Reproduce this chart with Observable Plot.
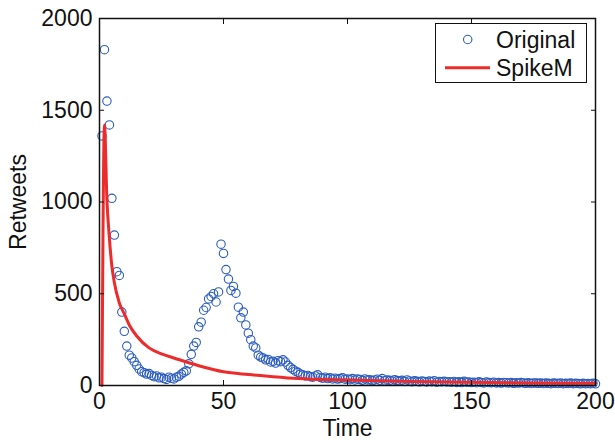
<!DOCTYPE html>
<html>
<head>
<meta charset="utf-8">
<script src="https://cdn.jsdelivr.net/npm/d3@7"></script>
<script src="https://cdn.jsdelivr.net/npm/@observablehq/plot@0.6"></script>
<style>
  html, body { margin: 0; padding: 0; background: #fff; }
  #wrap { position: relative; width: 615px; height: 440px; font-family: "Liberation Sans", Arial, sans-serif; }
  #legend { position: absolute; left: 435px; top: 23px; }
</style>
</head>
<body>
<div id="wrap"></div>
<script>
// Original observations: retweets per time step (t = 1..200)
const originalValues = [
  1360,1830,1550,1420,1020,820,620,600,400,295,
  215,165,150,130,110,90,75,70,62,65,
  55,48,52,42,45,38,33,45,40,36,
  45,50,62,72,80,118,170,215,235,320,
  345,410,425,472,485,500,455,510,770,720,
  632,580,518,540,503,427,369,400,330,285,
  250,215,205,165,155,150,140,142,128,132,
  122,135,130,140,128,110,98,88,78,72,
  62,58,52,55,48,45,52,58,44,40,
  45,38,42,36,40,35,38,42,34,36,
  32,38,30,35,33,28,36,30,32,27,
  30,34,28,38,26,30,28,25,32,27,
  24,28,22,30,25,21,26,23,20,25,
  22,19,24,21,26,18,22,20,23,19,
  21,18,22,17,20,16,23,18,19,16,
  18,15,20,17,14,19,16,15,18,14,
  16,13,17,15,14,16,12,15,13,16,
  14,12,15,11,14,13,12,14,11,13,
  12,10,13,12,11,14,10,12,11,13,
  10,12,11,9,12,10,11,10,12,9
];
const originalTimes = originalValues.map((_, i) => i + 1);

// SpikeM model curve, read at sampled times
const spikeTimes  = [1, 2, 3, 4, 5, 6, 8, 10, 12, 15, 20, 25, 30, 40, 50, 60, 70, 80, 100, 125, 150, 175, 200];
const spikeValues = [0, 1420, 1010, 800, 650, 560, 450, 390, 330, 270, 205, 172, 150, 108, 75, 60, 48, 38, 30, 22, 18, 14, 12];

const xTicks = [0, 50, 100, 150, 200];
const yTicks = [0, 500, 1000, 1500, 2000];
const legendLabels = ["Original", "SpikeM"];

const blue = "#2b5cbf";
const red = "#ee2b2b";

const original = originalTimes.map((t, i) => ({t, v: originalValues[i]}));
const spike = spikeTimes.map((t, i) => ({t, v: spikeValues[i]}));
const fmt = d => String(d);

const chart = Plot.plot({
  width: 615,
  height: 440,
  marginLeft: 99,
  marginRight: 20,
  marginTop: 18,
  marginBottom: 55,
  style: {fontFamily: '"Liberation Sans", Arial, sans-serif', fontSize: "23px", color: "#111", background: "#fff", overflow: "visible"},
  x: {domain: [0, 200]},
  y: {domain: [0, 2000]},
  marks: [
    Plot.dot(original, {x: "t", y: "v", r: 4.2, stroke: blue, strokeWidth: 1.1, fill: "none"}),
    Plot.line(spike, {x: "t", y: "v", stroke: red, strokeWidth: 3, curve: "monotone-x"}),
    Plot.axisX({anchor: "bottom", ticks: xTicks, tickFormat: fmt, tickSize: -5, tickPadding: 12, label: "Time", labelAnchor: "center", labelOffset: 50, labelArrow: "none", fontSize: 23}),
    Plot.axisX({anchor: "top", ticks: xTicks, tickSize: -5, tickFormat: () => "", label: null}),
    Plot.axisY({anchor: "left", ticks: yTicks, tickFormat: fmt, tickSize: -5, tickPadding: 12, label: "Retweets", labelAnchor: "center", labelOffset: 90, labelArrow: "none", fontSize: 23}),
    Plot.axisY({anchor: "right", ticks: yTicks, tickSize: -5, tickFormat: () => "", label: null}),
    Plot.frame({stroke: "#111", strokeWidth: 1.5})
  ]
});

const wrap = document.getElementById("wrap");
wrap.appendChild(chart);

// Legend (HTML overlay)
const ns = "http://www.w3.org/2000/svg";
const leg = document.createElementNS(ns, "svg");
leg.setAttribute("id", "legend");
leg.setAttribute("width", 153);
leg.setAttribute("height", 61);
leg.style.fontFamily = '"Liberation Sans", Arial, sans-serif';
leg.style.fontSize = "23px";
leg.innerHTML = `
  <rect x="0.5" y="0.5" width="151" height="59" fill="#fff" stroke="#111" stroke-width="1"/>
  <circle cx="32.7" cy="16.5" r="4.2" fill="none" stroke="${blue}" stroke-width="1.1"/>
  <text x="61" y="24.5" fill="#111">${legendLabels[0]}</text>
  <line x1="10" x2="55" y1="44.7" y2="44.7" stroke="${red}" stroke-width="3"/>
  <text x="61" y="52.5" fill="#111">${legendLabels[1]}</text>
`;
wrap.appendChild(leg);
</script>
</body>
</html>
